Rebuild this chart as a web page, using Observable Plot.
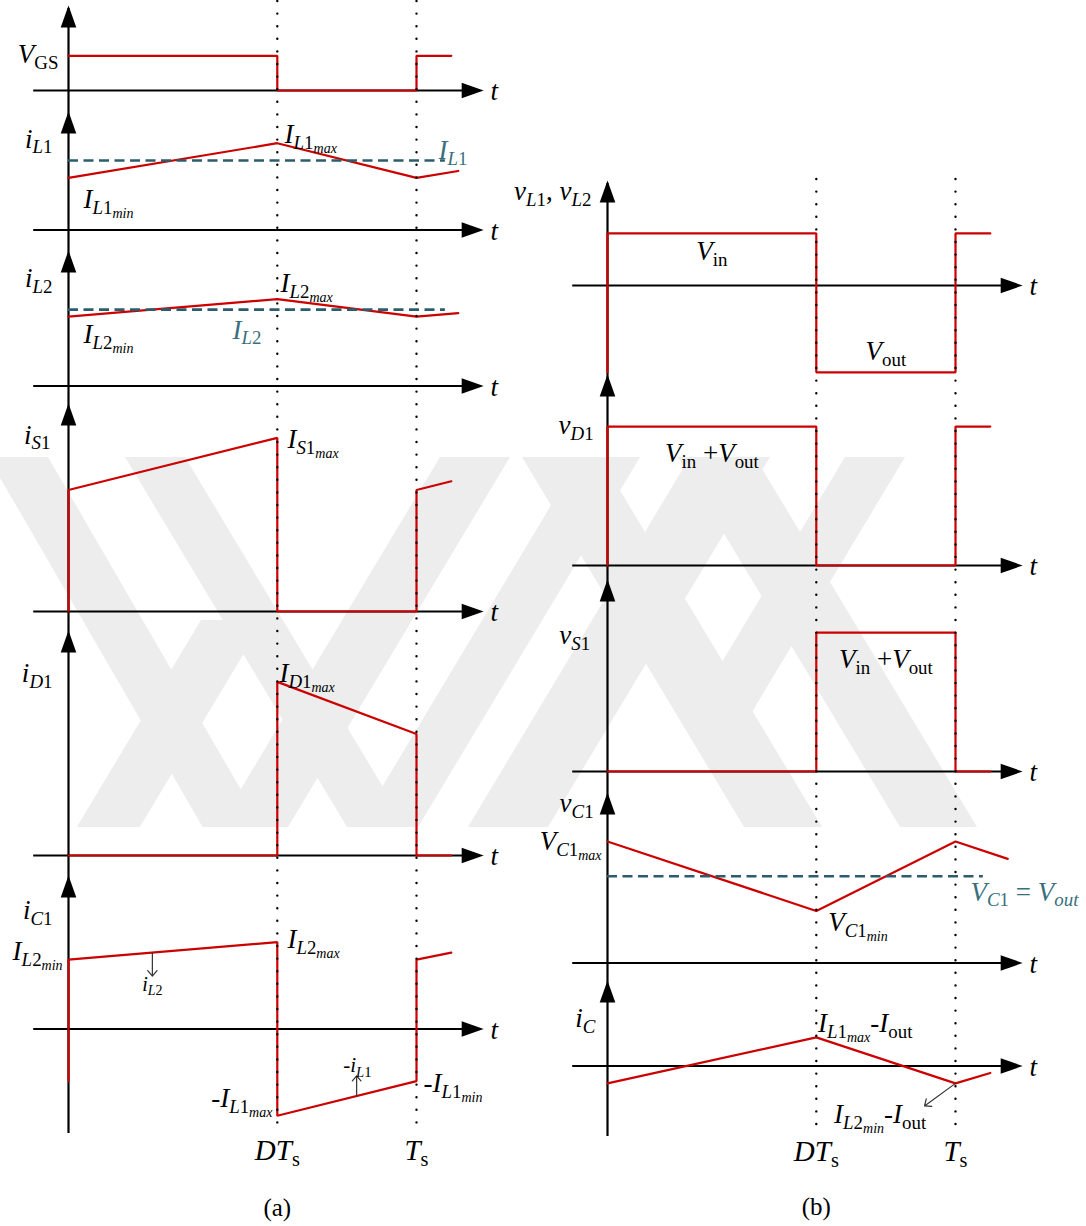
<!DOCTYPE html>
<html>
<head>
<meta charset="utf-8">
<script src="https://cdn.jsdelivr.net/npm/d3@7"></script>
<script src="https://cdn.jsdelivr.net/npm/@observablehq/plot@0.6"></script>
<style>
  body { margin: 0; background: #fff; }
  #chart svg { display: block; }
  #chart text { white-space: pre; }
</style>
</head>
<body>
<div id="chart"></div>
<script>
// Switching period normalised to Ts = 1; D is the duty ratio of S1.
const D = 0.6;
const Ts = 1;

// (a) gate drive and currents: vertices [t / Ts, value]; all currents share one unit
const vGS = [[0, 0.4], [0.6, 0.4], [0.6, 0], [1, 0], [1, 0.4], [1.1, 0.4]];
const iL1 = [[0, 0.6], [0.6, 1.0], [1, 0.6], [1.12, 0.68]];
const iL2 = [[0, 0.8], [0.6, 1.0], [1, 0.8], [1.12, 0.84]];
const iS1 = [[0, 0], [0, 1.4], [0.6, 2.0], [0.6, 0], [1, 0], [1, 1.4], [1.1, 1.5]];
const iD1 = [[0, 0], [0.6, 0], [0.6, 2.0], [1, 1.4], [1, 0], [1.1, 0]];
const iC1 = [[0, -0.6], [0, 0.8], [0.6, 1.0], [0.6, -1.0], [1, -0.6], [1, 0.8], [1.1, 0.88]];
const IL1avg = 0.8;
const IL2avg = 0.88;

// (b) voltages (unit = Vout) and capacitor current
const vL  = [[0, -1], [0, 0.6], [0.6, 0.6], [0.6, -1], [1, -1], [1, 0.6], [1.1, 0.6]];
const vD1 = [[0, 0], [0, 1.6], [0.6, 1.6], [0.6, 0], [1, 0], [1, 1.6], [1.1, 1.6]];
const vS1 = [[0, 0], [0.6, 0], [0.6, 1.6], [1, 1.6], [1, 0], [1.1, 0]];
const vC1 = [[0, 1.4], [0.6, 0.6], [1, 1.4], [1.15, 1.2]];
const iC  = [[0, -0.2], [0.6, 0.33], [1, -0.2], [1.1, -0.08]];
const VC1avg = 1.0;

const series = [
  {p: "vGS", pts: vGS}, {p: "iL1", pts: iL1}, {p: "iL2", pts: iL2},
  {p: "iS1", pts: iS1}, {p: "iD1", pts: iD1}, {p: "iC1", pts: iC1},
  {p: "vL", pts: vL}, {p: "vD1", pts: vD1}, {p: "vS1", pts: vS1},
  {p: "vC1", pts: vC1}, {p: "iC", pts: iC}
];
const averages = [
  {p: "iL1", v: IL1avg, t2: 1.083},
  {p: "iL2", v: IL2avg, t2: 1.083},
  {p: "vC1", v: VC1avg, t2: 1.08}
];

// Labels in markup: "_" subscript, {..} group, [..] upright; letters italic otherwise
const labels = [
  {s: "V_[GS]", p: "vGS", t: -0.029, v: 0.32, a: "end"},
  {s: "i_{L1}", p: "iL1", t: -0.046, v: 0.95, a: "end"},
  {s: "I_{L1_{max}}", p: "iL1", t: 0.621, v: 1.0, a: "start"},
  {s: "I_{L1}", p: "iL1", t: 1.063, v: 0.82, a: "start", tone: "avg"},
  {s: "I_{L1_{min}}", p: "iL1", t: 0.043, v: 0.25, a: "start"},
  {s: "i_{L2}", p: "iL2", t: -0.046, v: 1.135, a: "end"},
  {s: "I_{L2_{max}}", p: "iL2", t: 0.609, v: 1.08, a: "start"},
  {s: "I_{L2}", p: "iL2", t: 0.471, v: 0.547, a: "start", tone: "avg"},
  {s: "I_{L2_{min}}", p: "iL2", t: 0.043, v: 0.49, a: "start"},
  {s: "i_{S1}", p: "iS1", t: -0.052, v: 1.935, a: "end"},
  {s: "I_{S1_{max}}", p: "iS1", t: 0.629, v: 1.88, a: "start"},
  {s: "i_{D1}", p: "iD1", t: -0.046, v: 2.0, a: "end"},
  {s: "I_{D1_{max}}", p: "iD1", t: 0.606, v: 2.0, a: "start"},
  {s: "i_{C1}", p: "iC1", t: -0.046, v: 1.27, a: "end"},
  {s: "I_{L2_{max}}", p: "iC1", t: 0.629, v: 0.93, a: "start"},
  {s: "I_{L2_{min}}", p: "iC1", t: -0.017, v: 0.79, a: "end"},
  {s: "-I_{L1_{max}}", p: "iC1", t: 0.586, v: -0.9, a: "end"},
  {s: "-I_{L1_{min}}", p: "iC1", t: 1.02, v: -0.73, a: "start"},
  {s: "i_{L2}", p: "iC1", t: 0.241, v: 0.44, a: "middle", size: 20},
  {s: "-i_{L1}", p: "iC1", t: 0.83, v: -0.5, a: "middle", size: 21},
  {s: "DT_[s]", p: "iC1", t: D, v: -1.51, a: "middle", size: 29},
  {s: "T_[s]", p: "iC1", t: Ts, v: -1.51, a: "middle", size: 29},
  {s: "[(a)]", p: "iC1", t: D, v: -2.15, a: "middle", size: 25},

  {s: "v_{L1}, v_{L2}", p: "vL", t: -0.046, v: 0.99, a: "end"},
  {s: "V_[in]", p: "vL", t: 0.3, v: 0.29, a: "middle"},
  {s: "V_[out]", p: "vL", t: 0.8, v: -0.86, a: "middle"},
  {s: "v_{D1}", p: "vD1", t: -0.04, v: 1.52, a: "end"},
  {s: "V_[in] +V_[out]", p: "vD1", t: 0.3, v: 1.19, a: "middle"},
  {s: "v_{S1}", p: "vS1", t: -0.05, v: 1.47, a: "end"},
  {s: "V_[in] +V_[out]", p: "vS1", t: 0.8, v: 1.19, a: "middle"},
  {s: "v_{C1}", p: "vC1", t: -0.04, v: 1.74, a: "end"},
  {s: "V_{C1_{max}}", p: "vC1", t: -0.017, v: 1.30, a: "end"},
  {s: "V_{C1_{min}}", p: "vC1", t: 0.634, v: 0.37, a: "start"},
  {s: "V_{C1} = V_{out}", p: "vC1", t: 1.043, v: 0.72, a: "start", tone: "avg"},
  {s: "i_C", p: "iC", t: -0.035, v: 0.45, a: "end"},
  {s: "I_{L1_{max}}-I_[out]", p: "iC", t: 0.605, v: 0.39, a: "start"},
  {s: "I_{L2_{min}}-I_[out]", p: "iC", t: 0.651, v: -0.66, a: "start"},
  {s: "DT_[s]", p: "iC", t: D, v: -1.09, a: "middle", size: 29},
  {s: "T_[s]", p: "iC", t: Ts, v: -1.09, a: "middle", size: 29},
  {s: "[(b)]", p: "iC", t: D, v: -1.72, a: "middle", size: 25}
];

// Small pointer arrows tying a label to its trace
const pointers = [
  {p: "iC1", t1: 0.241, v1: 0.88, t2: 0.241, v2: 0.61},
  {p: "iC1", t1: 0.828, v1: -0.77, t2: 0.828, v2: -0.54},
  {p: "iC", t1: 1.0, v1: -0.2, t2: 0.911, v2: -0.46}
];

// ---- layout -------------------------------------------------------------
const W = 1086, H = 1226;
const unitPx = 86.8;   // px per amplitude unit
const periodPx = 348;  // px per switching period
const originPx = {a: 68, b: 607};
const colOffset = {a: 0, b: (originPx.b - originPx.a) / periodPx};
const BASE_FONT = 27;

// panel baseline and axis-arrow tip, px from the top
const layout = {
  vGS: {col: "a", base: 90, tip: 5},
  iL1: {col: "a", base: 229.5, tip: 111},
  iL2: {col: "a", base: 385.5, tip: 250},
  iS1: {col: "a", base: 611, tip: 403},
  iD1: {col: "a", base: 855, tip: 630},
  iC1: {col: "a", base: 1028.5, tip: 875},
  vL:  {col: "b", base: 285, tip: 180},
  vD1: {col: "b", base: 565, tip: 374},
  vS1: {col: "b", base: 771, tip: 579},
  vC1: {col: "b", base: 962.5, tip: 792},
  iC:  {col: "b", base: 1065.5, tip: 980}
};
const spines = [{col: "a", top: 8, bottom: 1133}, {col: "b", top: 183, bottom: 1136}];
const markers = ["a", "b"].flatMap(col => [D, Ts].map(t => ({
  col, t, top: col === "a" ? 1 : 179, bottom: col === "a" ? 1133 : 1134
})));

// Background emblem: slanted bands (px: left/right edge at the top row, vertical extent, lean)
const emblem = [
  {l: -12, r: 48, y0: 457, y1: 827, lean: 0.58},
  {l: 125, r: 185, y0: 457, y1: 827, lean: 0.6},
  {l: 522, r: 600, y0: 457, y1: 827, lean: 0.6},
  {l: 678, r: 755, y0: 457, y1: 827, lean: 0.6},
  {l: 440, r: 510, y0: 457, y1: 827, lean: -0.6},
  {l: 580, r: 640, y0: 457, y1: 827, lean: -0.6},
  {l: 690, r: 770, y0: 457, y1: 827, lean: -0.6},
  {l: 845, r: 905, y0: 457, y1: 722, lean: -0.6},
  {l: 201, r: 264, y0: 620, y1: 827, lean: -0.6}
];

const X = (col, t) => colOffset[col] + t;
const Y = (p, v) => v - layout[p].base / unitPx;
const fromTop = px => -px / unitPx;
const fromLeft = px => (px - originPx.a) / periodPx;
const colOf = p => layout[p].col;

const RED = "#cc0000";
const TEAL = "#2b5d6c";
const TEAL_TEXT = "#386f7e";
const EMBLEM = "#ededed";
const FONT = "Liberation Serif, Times New Roman, serif";

const panelRows = Object.entries(layout).map(([p, L]) => ({p, ...L}));
const traces = series.flatMap(s => s.pts.map(([t, v]) => ({p: s.p, t, v})));
const emblemRows = emblem.flatMap((b, id) => [b.y0, b.y1].map(y => ({
  id, y, l: b.l + b.lean * (y - b.y0), r: b.r + b.lean * (y - b.y0)
})));

// filled arrowhead with its tip at the anchor, pointing up
const arrowHead = {
  draw(ctx) {
    ctx.moveTo(0, 0);
    ctx.lineTo(-7.8, 22);
    ctx.lineTo(7.8, 22);
    ctx.closePath();
  }
};

// one text mark per anchor / tone / size combination
const textGroups = d3.groups(labels, d => `${d.a}|${d.tone || "ink"}|${d.size || BASE_FONT}`);
const textMarks = textGroups.map(([key, rows]) => {
  const [anchor, tone, size] = key.split("|");
  return Plot.text(rows, {
    x: d => X(colOf(d.p), d.t),
    y: d => Y(d.p, d.v),
    text: "s",
    textAnchor: anchor,
    lineAnchor: "bottom",
    fill: tone === "avg" ? TEAL_TEXT : "black",
    fontSize: +size,
    fontFamily: FONT
  });
});
const axisLabels = Plot.text(panelRows, {
  x: d => X(d.col, 1.213),
  y: d => Y(d.p, -0.11),
  text: () => "t",
  textAnchor: "start",
  lineAnchor: "bottom",
  fontSize: 27,
  fontFamily: FONT
});

const chart = Plot.plot({
  width: W,
  height: H,
  margin: 0,
  x: {type: "linear", domain: [-originPx.a / periodPx, (W - originPx.a) / periodPx], range: [0, W], axis: null},
  y: {type: "linear", domain: [-H / unitPx, 0], range: [H, 0], axis: null},
  style: {background: "white", overflow: "hidden"},
  marks: [
    Plot.areaX(emblemRows, {
      y: d => fromTop(d.y), x1: d => fromLeft(d.l), x2: d => fromLeft(d.r), z: "id",
      fill: EMBLEM, stroke: "none"
    }),
    // time axes
    Plot.ruleY(panelRows, {
      y: d => Y(d.p, 0), x1: d => X(d.col, -0.1), x2: d => X(d.col, 1.17),
      stroke: "black", strokeWidth: 2.2
    }),
    // vertical axes
    Plot.ruleX(spines, {
      x: d => X(d.col, 0), y1: d => fromTop(d.top), y2: d => fromTop(d.bottom),
      stroke: "black", strokeWidth: 2.2
    }),
    Plot.dot(panelRows, {
      x: d => X(d.col, 0), y: d => fromTop(d.tip),
      symbol: arrowHead, fill: "black", stroke: "none"
    }),
    Plot.dot(panelRows, {
      x: d => X(d.col, 1.193), y: d => Y(d.p, 0),
      symbol: arrowHead, rotate: 90, fill: "black", stroke: "none"
    }),
    // waveforms
    Plot.line(traces, {
      x: d => X(colOf(d.p), d.t), y: d => Y(d.p, d.v), z: "p",
      stroke: RED, strokeWidth: 2.2, strokeLinejoin: "miter"
    }),
    // average values
    Plot.ruleY(averages, {
      y: d => Y(d.p, d.v), x1: d => X(colOf(d.p), 0), x2: d => X(colOf(d.p), d.t2),
      stroke: TEAL, strokeWidth: 2.6, strokeDasharray: "10 5.5"
    }),
    // DTs and Ts markers
    Plot.ruleX(markers, {
      x: d => X(d.col, d.t), y1: d => fromTop(d.top), y2: d => fromTop(d.bottom),
      stroke: "black", strokeWidth: 2.4, strokeDasharray: "0 12.6", strokeLinecap: "round"
    }),
    Plot.arrow(pointers, {
      x1: d => X(colOf(d.p), d.t1), y1: d => Y(d.p, d.v1),
      x2: d => X(colOf(d.p), d.t2), y2: d => Y(d.p, d.v2),
      stroke: "#333", strokeWidth: 1.2, headLength: 9, headAngle: 80
    }),
    axisLabels,
    ...textMarks
  ]
});

document.getElementById("chart").appendChild(chart);

// Rich text: turn the markup in each label into italic / subscript tspans
function parseMarkup(src) {
  const runs = [];
  let i = 0;
  const push = (ch, level, upright) => {
    const italic = !upright && /[A-Za-z]/.test(ch);
    const last = runs[runs.length - 1];
    if (last && last.level === level && last.italic === italic) last.text += ch;
    else runs.push({text: ch, level: Math.min(level, 2), italic});
  };
  const group = (level, upright, close) => {
    while (i < src.length) {
      const c = src[i++];
      if (c === close) return;
      if (c === "_") {
        const n = src[i++];
        if (n === "{") group(level + 1, upright, "}");
        else if (n === "[") group(level + 1, true, "]");
        else push(n, level + 1, upright);
      } else if (c === "[") group(level, true, "]");
      else if (c === "{") group(level, upright, "}");
      else push(c, level, upright);
    }
  };
  group(0, false, null);
  return runs;
}

const SIZE = [1, 0.7, 0.52];
const SHIFT = [0, 0.22, 0.36];
chart.querySelectorAll("text").forEach(el => {
  const src = el.textContent;
  const S = parseFloat(getComputedStyle(el).fontSize) || BASE_FONT;
  const runs = parseMarkup(src);
  el.textContent = "";
  let shift = 0;
  for (const r of runs) {
    const ts = document.createElementNS("http://www.w3.org/2000/svg", "tspan");
    ts.setAttribute("font-size", (S * SIZE[r.level]).toFixed(1));
    const target = SHIFT[r.level] * S;
    if (target !== shift) {
      ts.setAttribute("dy", (target - shift).toFixed(2));
      shift = target;
    }
    ts.setAttribute("font-style", r.italic ? "italic" : "normal");
    ts.textContent = r.text;
    el.appendChild(ts);
  }
});
</script>
</body>
</html>
